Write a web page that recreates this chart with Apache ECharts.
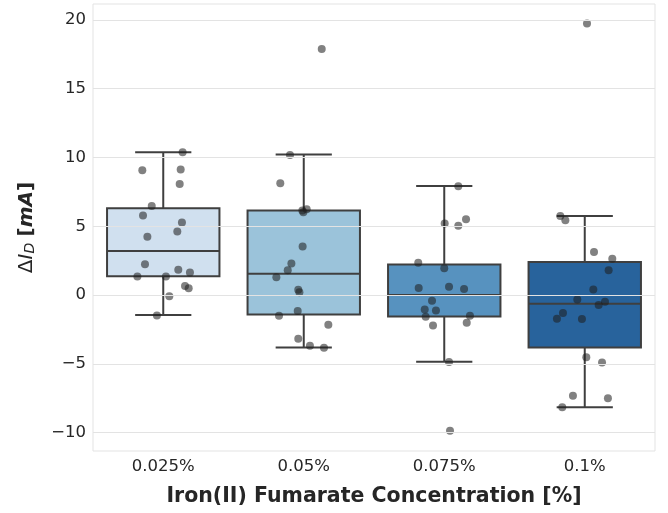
<!DOCTYPE html>
<html>
<head>
<meta charset="utf-8">
<script src="https://cdn.jsdelivr.net/npm/echarts@6/dist/echarts.min.js"></script>
<style>
html, body { margin: 0; padding: 0; background: #fff; }
#main { width: 668px; height: 513px; }
</style>
</head>
<body>
<div id="main"></div>
<script>
// categories and tick labels
const categories = ['0.025%', '0.05%', '0.075%', '0.1%']
const yTicks = [-10, -5, 0, 5, 10, 15, 20]
const boxColors = ['#d0e0ef', '#9bc3da', '#5792bf', '#28639c']

// box stats: [lowWhisker, q1, median, q3, highWhisker]
const box025 = [-1.46, 1.37, 3.21, 6.31, 10.38]
const box050 = [-3.81, -1.41, 1.54, 6.14, 10.21]
const box075 = [-4.85, -1.56, 0.01, 2.22, 7.93]
const box100 = [-8.16, -3.81, -0.64, 2.41, 5.75]

// strip points (values) and their jitter in category units
const pts025 = [10.38, 9.07, 9.12, 8.08, 6.48, 5.78, 5.27, 4.62, 4.23, 2.24, 1.35, 1.35, 1.83, 1.64, 0.65, 0.50, -0.08, -1.48]
const jit025 = [0.138, -0.149, 0.124, 0.117, -0.082, -0.144, 0.133, 0.100, -0.113, -0.130, -0.184, 0.019, 0.107, 0.190, 0.155, 0.181, 0.043, -0.045]
const pts050 = [17.88, 10.18, 8.13, 6.14, 6.24, 6.02, 3.53, 2.29, 1.81, 1.30, 0.38, 0.21, -1.17, -1.51, -2.16, -3.18, -3.69, -3.83]
const jit050 = [0.128, -0.098, -0.167, -0.010, 0.021, -0.003, -0.008, -0.088, -0.114, -0.195, -0.039, -0.031, -0.043, -0.176, 0.175, -0.039, 0.044, 0.144]
const pts075 = [7.91, 5.51, 5.03, 5.20, 2.34, 1.95, 0.52, 0.60, 0.43, -0.42, -1.05, -1.12, -1.58, -1.51, -2.02, -2.21, -4.87, -9.86]
const jit075 = [0.100, 0.155, 0.100, 0.003, -0.185, 0.000, -0.182, 0.034, 0.141, -0.087, -0.139, -0.059, -0.132, 0.183, 0.160, -0.080, 0.034, 0.041]
const pts100 = [19.74, 5.75, 5.44, 3.12, 2.63, 1.81, 0.41, -0.32, -0.49, -0.73, -1.31, -1.73, -1.75, -4.53, -4.90, -7.32, -7.51, -8.16]
const jit100 = [0.016, -0.174, -0.138, 0.066, 0.196, 0.170, 0.061, -0.053, 0.144, 0.099, -0.155, -0.198, -0.020, 0.011, 0.123, -0.084, 0.165, -0.160]

const boxes = [box025, box050, box075, box100]
const pointSets = [[pts025, jit025], [pts050, jit050], [pts075, jit075], [pts100, jit100]]

const boxData = boxes.map((b, i) => [i].concat(b))
const stripData = []
pointSets.forEach((ps, i) => {
	for (let k = 0; k < ps[0].length; k++) {
		stripData.push([i + ps[1][k], ps[0][k]])
	}
})

const edge = '#3f3f3f'
const txt = '#262626'
const font = 'DejaVu Sans'

function renderBox(params, api) {
	let idx = api.value(0)
	let band = api.size([1, 0])[0]
	let bw = band * 0.8
	let cap = bw * 0.5
	let lo = api.coord([idx, api.value(1)])
	let q1 = api.coord([idx, api.value(2)])
	let med = api.coord([idx, api.value(3)])
	let q3 = api.coord([idx, api.value(4)])
	let hi = api.coord([idx, api.value(5)])
	let cx = lo[0]
	let ls = { stroke: edge, lineWidth: 2 }
	return {
		type: 'group',
		children: [
			{ type: 'line', shape: { x1: cx, y1: hi[1], x2: cx, y2: q3[1] }, style: ls },
			{ type: 'line', shape: { x1: cx, y1: q1[1], x2: cx, y2: lo[1] }, style: ls },
			{ type: 'line', shape: { x1: cx - cap / 2, y1: hi[1], x2: cx + cap / 2, y2: hi[1] }, style: ls },
			{ type: 'line', shape: { x1: cx - cap / 2, y1: lo[1], x2: cx + cap / 2, y2: lo[1] }, style: ls },
			{ type: 'rect', shape: { x: cx - bw / 2, y: q3[1], width: bw, height: q1[1] - q3[1] },
				style: { fill: boxColors[idx], stroke: edge, lineWidth: 2 } },
			{ type: 'line', shape: { x1: cx - bw / 2, y1: med[1], x2: cx + bw / 2, y2: med[1] }, style: ls }
		]
	}
}

let myChart = echarts.init(document.getElementById('main'))

let option = {
	animation: false,
	backgroundColor: '#fff',
	grid: {
		left: 93, right: 13, top: 4, bottom: 62,
		show: true, borderColor: '#e3e3e3', borderWidth: 1
	},
	xAxis: [{
		type: 'category',
		data: categories,
		axisLine: { show: false },
		axisTick: { show: false },
		splitLine: { show: false },
		axisLabel: { color: txt, fontSize: 16.5, fontFamily: font, margin: 7 },
		name: 'Iron(II) Fumarate Concentration [%]',
		nameLocation: 'middle',
		nameGap: 35,
		nameTextStyle: { color: txt, fontSize: 20.5, fontWeight: 'bold', fontFamily: font }
	}, {
		type: 'value',
		min: -0.5,
		max: 3.5,
		show: false
	}],
	yAxis: {
		type: 'value',
		min: -11.34,
		max: 21.16,
		axisLine: { show: false },
		axisTick: { show: false },
		splitLine: { show: false },
		axisLabel: {
			customValues: yTicks,
			color: txt, fontSize: 16.5, fontFamily: font, margin: 7,
			formatter: function(v) { return v < 0 ? '\u2212' + Math.abs(v) : String(v) }
		},
		name: 'Δ{it|I}{sub|D} {b|[}{bi|mA}{b|]}',
		nameLocation: 'middle',
		nameRotate: 90,
		nameGap: 56,
		nameTextStyle: {
			color: txt, fontSize: 20, fontFamily: font,
			rich: {
				it: { fontStyle: 'italic', fontSize: 20, fontFamily: font, color: txt },
				sub: { fontStyle: 'italic', fontSize: 14, fontFamily: font, color: txt, verticalAlign: 'bottom', padding: [7, 0, 0, 0] },
				b: { fontWeight: 'bold', fontSize: 20, fontFamily: font, color: txt },
				bi: { fontWeight: 'bold', fontStyle: 'italic', fontSize: 20, fontFamily: font, color: txt }
			}
		}
	},
	series: [{
		// gridlines
		type: 'line',
		data: [],
		z: 1,
		silent: true,
		markLine: {
			silent: true,
			symbol: 'none',
			label: { show: false },
			lineStyle: { color: '#e3e3e3', width: 1, type: 'solid' },
			data: yTicks.map(v => ({ yAxis: v }))
		}
	}, {
		type: 'custom',
		xAxisIndex: 0,
		z: 2,
		renderItem: renderBox,
		data: boxData
	}, {
		type: 'scatter',
		xAxisIndex: 1,
		z: 3,
		symbolSize: 8,
		itemStyle: { color: 'rgba(30,30,30,0.7)' },
		data: stripData
	}]
}

myChart.setOption(option)
</script>
</body>
</html>
